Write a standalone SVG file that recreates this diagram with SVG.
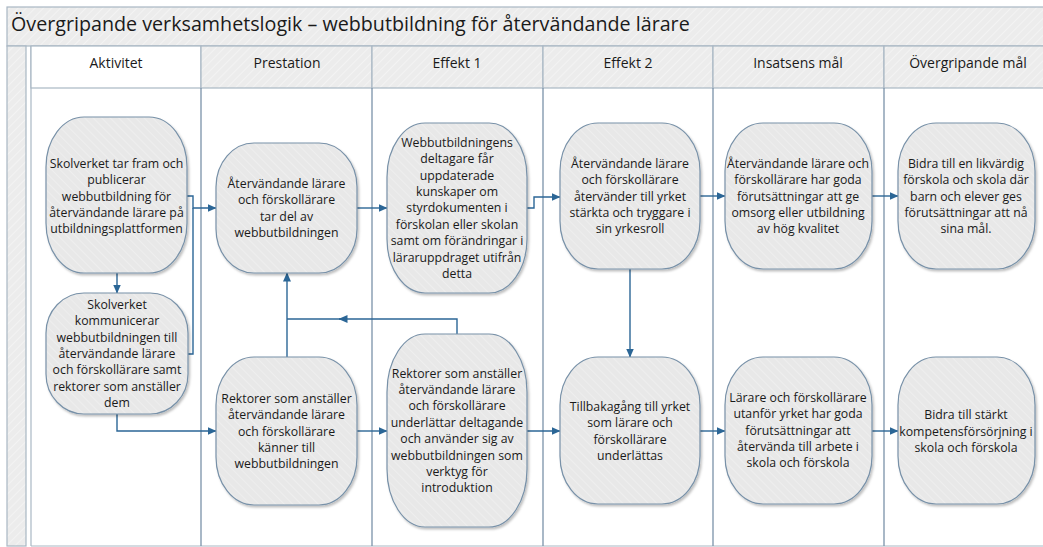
<svg xmlns="http://www.w3.org/2000/svg" width="1043" height="547" viewBox="0 0 1043 547">
<style>
.frame{fill:url(#hatchL);stroke:#a9b7c4;stroke-width:1.2}
.hdr{fill:url(#hatchL);stroke:#a9b7c4;stroke-width:1.2}
.hdrw{fill:#ffffff;stroke:#a9b7c4;stroke-width:1.2}
.lane{stroke:#7b93aa;stroke-width:1.3;fill:none}
.title{font-family:"Open Sans","Noto Sans",sans-serif;font-size:19.7px;fill:#1a1a1a}
.htxt{font-family:"Open Sans","Noto Sans",sans-serif;font-size:14px;fill:#1a1a1a;text-anchor:middle}
.box{fill:url(#hatchN);stroke:#7891a8;stroke-width:1.2;filter:url(#sh)}
.ntxt{font-family:"Open Sans","Noto Sans",sans-serif;font-size:12.3px;fill:#1a1a1a;text-anchor:middle}
.con{fill:none;stroke:#2b6696;stroke-width:1.4}
</style>
<defs>
<pattern id="hatchL" width="6" height="6" patternUnits="userSpaceOnUse" patternTransform="rotate(45)">
<rect width="6" height="6" fill="#ececec"/>
<line x1="0" y1="0" x2="0" y2="6" stroke="#f6f6f6" stroke-width="1.5"/>
</pattern>
<pattern id="hatchN" width="6" height="6" patternUnits="userSpaceOnUse" patternTransform="rotate(-45)">
<rect width="6" height="6" fill="#e8e8e8"/>
<line x1="0" y1="0" x2="0" y2="6" stroke="#f1f1f1" stroke-width="1.5"/>
</pattern>
<filter id="sh" x="-10%" y="-10%" width="125%" height="125%">
<feDropShadow dx="1.5" dy="2" stdDeviation="1.2" flood-color="#000" flood-opacity="0.25"/>
</filter>
<marker id="ah" markerUnits="userSpaceOnUse" markerWidth="9" markerHeight="8" refX="8.5" refY="4" orient="auto">
<path d="M0,0 L9,4 L0,8 z" fill="#2b6696"/>
</marker>
</defs>

<g id="pool">
<rect x="7" y="7" width="1040" height="39" class="frame"/>
<text x="11" y="31" class="title">Övergripande verksamhetslogik – webbutbildning för återvändande lärare</text>
<rect x="7" y="46" width="19" height="500" fill="url(#hatchL)" stroke="#a9b7c4" stroke-width="1.2"/>
<line x1="31" y1="46" x2="31" y2="546" stroke="#a9b7c4" stroke-width="1.2"/>
<rect x="31" y="46" width="170" height="42" class="hdrw"/>
<rect x="201" y="46" width="171" height="42" class="hdr"/>
<rect x="372" y="46" width="171" height="42" class="hdr"/>
<rect x="543" y="46" width="170" height="42" class="hdr"/>
<rect x="713" y="46" width="171" height="42" class="hdr"/>
<rect x="884" y="46" width="165" height="42" class="hdr"/>
<text x="116" y="68" class="htxt">Aktivitet</text>
<text x="287" y="68" class="htxt">Prestation</text>
<text x="457" y="68" class="htxt">Effekt 1</text>
<text x="628" y="68" class="htxt">Effekt 2</text>
<text x="798" y="68" class="htxt">Insatsens mål</text>
<text x="968" y="68" class="htxt">Övergripande mål</text>
<line x1="31" y1="546" x2="1043" y2="546" stroke="#a9b7c4" stroke-width="1.2"/>
<path class="lane" d="M201,88 V546 M372,88 V546 M543,88 V546 M713,88 V546 M884,88 V546"/>
</g>

<g id="connectors">
<path class="con" marker-end="url(#ah)" d="M117,273 V293"/>
<path class="con" marker-end="url(#ah)" d="M187,196 H193 V208 H216"/>
<path class="con" d="M188,354 H193 V208"/>
<path class="con" marker-end="url(#ah)" d="M117,414 V431 H216"/>
<path class="con" marker-end="url(#ah)" d="M287,357 V273"/>
<path class="con" marker-end="url(#ah)" d="M457,334 V319 H339"/>
<path class="con" d="M345,319 H287"/>
<path class="con" marker-end="url(#ah)" d="M357,208 H387"/>
<path class="con" marker-end="url(#ah)" d="M527,208 H534 V197 H560"/>
<path class="con" marker-end="url(#ah)" d="M357,431 H387"/>
<path class="con" marker-end="url(#ah)" d="M527,431 H560"/>
<path class="con" marker-end="url(#ah)" d="M630,269 V357"/>
<path class="con" marker-end="url(#ah)" d="M700,196 H725"/>
<path class="con" marker-end="url(#ah)" d="M700,431 H725"/>
<path class="con" marker-end="url(#ah)" d="M872,196 H898"/>
<path class="con" marker-end="url(#ah)" d="M872,431 H898"/>
</g>

<g id="n1">
<rect class="box" x="46" y="117" width="141" height="156" rx="38" ry="50"/>
<text class="ntxt" x="116.5"><tspan x="116.5" y="167.9">Skolverket tar fram och</tspan><tspan x="116.5" y="184.2">publicerar</tspan><tspan x="116.5" y="200.5">webbutbildning för</tspan><tspan x="116.5" y="216.8">återvändande lärare på</tspan><tspan x="116.5" y="233.1">utbildningsplattformen</tspan></text>
</g>
<g id="n2">
<rect class="box" x="46" y="293" width="142" height="121" rx="38" ry="40"/>
<text class="ntxt"><tspan x="117" y="309.1">Skolverket</tspan><tspan x="117" y="325.4">kommunicerar</tspan><tspan x="117" y="341.7">webbutbildningen till</tspan><tspan x="117" y="358">återvändande lärare</tspan><tspan x="117" y="374.3">och förskollärare samt</tspan><tspan x="117" y="390.6">rektorer som anställer</tspan><tspan x="117" y="406.9">dem</tspan></text>
</g>
<g id="n3">
<rect class="box" x="216" y="143" width="141" height="130" rx="38" ry="44"/>
<text class="ntxt"><tspan x="286.5" y="188">Återvändande lärare</tspan><tspan x="286.5" y="204.3">och förskollärare</tspan><tspan x="286.5" y="220.6">tar del av</tspan><tspan x="286.5" y="236.9">webbutbildningen</tspan></text>
</g>
<g id="n4">
<rect class="box" x="216" y="357" width="141" height="148" rx="38" ry="48"/>
<text class="ntxt"><tspan x="286.5" y="402.9">Rektorer som anställer</tspan><tspan x="286.5" y="419.2">återvändande lärare</tspan><tspan x="286.5" y="435.5">och förskollärare</tspan><tspan x="286.5" y="451.8">känner till</tspan><tspan x="286.5" y="468.1">webbutbildningen</tspan></text>
</g>
<g id="n5">
<rect class="box" x="387" y="123" width="140" height="170" rx="38" ry="54"/>
<text class="ntxt"><tspan x="457" y="146.8">Webbutbildningens</tspan><tspan x="457" y="163.2">deltagare får</tspan><tspan x="457" y="179.6">uppdaterade</tspan><tspan x="457" y="196">kunskaper om</tspan><tspan x="457" y="212.4">styrdokumenten i</tspan><tspan x="457" y="228.8">förskolan eller skolan</tspan><tspan x="457" y="245.2">samt om förändringar i</tspan><tspan x="457" y="261.6">läraruppdraget utifrån</tspan><tspan x="457" y="278">detta</tspan></text>
</g>
<g id="n6">
<rect class="box" x="560" y="123" width="140" height="146" rx="38" ry="48"/>
<text class="ntxt"><tspan x="630" y="167.9">Återvändande lärare</tspan><tspan x="630" y="184.2">och förskollärare</tspan><tspan x="630" y="200.5">återvänder till yrket</tspan><tspan x="630" y="216.8">stärkta och tryggare i</tspan><tspan x="630" y="233.1">sin yrkesroll</tspan></text>
</g>
<g id="n7">
<rect class="box" x="387" y="334" width="140" height="193" rx="38" ry="58"/>
<text class="ntxt"><tspan x="457" y="377.5">Rektorer som anställer</tspan><tspan x="457" y="393.9">återvändande lärare</tspan><tspan x="457" y="410.3">och förskollärare</tspan><tspan x="457" y="426.7">underlättar deltagande</tspan><tspan x="457" y="443.1">och använder sig av</tspan><tspan x="457" y="459.5">webbutbildningen som</tspan><tspan x="457" y="475.9">verktyg för</tspan><tspan x="457" y="492.3">introduktion</tspan></text>
</g>
<g id="n8">
<rect class="box" x="560" y="357" width="140" height="147" rx="38" ry="48"/>
<text class="ntxt"><tspan x="630" y="411">Tillbakagång till yrket</tspan><tspan x="630" y="427.3">som lärare och</tspan><tspan x="630" y="443.6">förskollärare</tspan><tspan x="630" y="459.9">underlättas</tspan></text>
</g>
<g id="n9">
<rect class="box" x="725" y="123" width="147" height="146" rx="38" ry="48"/>
<text class="ntxt"><tspan x="798" y="167.9">Återvändande lärare och</tspan><tspan x="798" y="184.2">förskollärare har goda</tspan><tspan x="798" y="200.5">förutsättningar att ge</tspan><tspan x="798" y="216.8">omsorg eller utbildning</tspan><tspan x="798" y="233.1">av hög kvalitet</tspan></text>
</g>
<g id="n10">
<rect class="box" x="898" y="123" width="137" height="146" rx="38" ry="48"/>
<text class="ntxt"><tspan x="966" y="167.9">Bidra till en likvärdig</tspan><tspan x="966" y="184.2">förskola och skola där</tspan><tspan x="966" y="200.5">barn och elever ges</tspan><tspan x="966" y="216.8">förutsättningar att nå</tspan><tspan x="966" y="233.1">sina mål.</tspan></text>
</g>
<g id="n11">
<rect class="box" x="725" y="357" width="147" height="147" rx="38" ry="48"/>
<text class="ntxt"><tspan x="798" y="402">Lärare och förskollärare</tspan><tspan x="798" y="418.3">utanför yrket har goda</tspan><tspan x="798" y="434.6">förutsättningar att</tspan><tspan x="798" y="450.9">återvända till arbete i</tspan><tspan x="798" y="467.2">skola och förskola</tspan></text>
</g>
<g id="n12">
<rect class="box" x="898" y="357" width="137" height="147" rx="38" ry="48"/>
<text class="ntxt"><tspan x="966" y="419.2">Bidra till stärkt</tspan><tspan x="966" y="435.5">kompetensförsörjning i</tspan><tspan x="966" y="451.8">skola och förskola</tspan></text>
</g>
</svg>
